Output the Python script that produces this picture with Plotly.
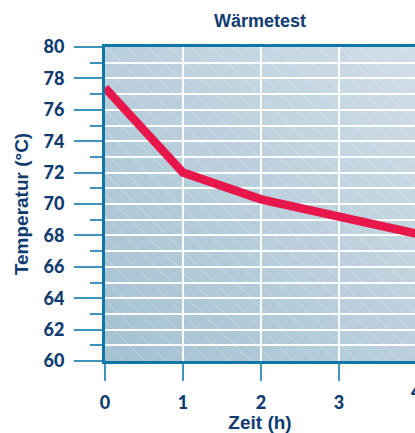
import base64
import plotly.graph_objects as go

# Data
zeit = [0, 1, 2, 3, 4]
temperatur = [77.4, 72.0, 70.3, 69.2, 68.1]
y_ticks = [60, 62, 64, 66, 68, 70, 72, 74, 76, 78, 80]
x_ticks = [0, 1, 2, 3, 4]

NAVY = "#0f3b70"
AXIS = "#0f76a8"
TICK = "#3f93bd"

# background: diagonal gradient + faint diagonal hatching
svg = """<svg xmlns='http://www.w3.org/2000/svg' width='310' height='315' viewBox='0 0 310 315' preserveAspectRatio='none'>
<defs>
<linearGradient id='g' x1='0' y1='1' x2='1' y2='0'>
<stop offset='0' stop-color='#a4c1d2'/>
<stop offset='1' stop-color='#d0dee7'/>
</linearGradient>
<pattern id='p' width='15' height='15' patternUnits='userSpaceOnUse' patternTransform='rotate(-45)'>
<line x1='0' y1='0' x2='0' y2='15' stroke='white' stroke-opacity='0.3' stroke-width='1'/>
</pattern>
</defs>
<rect width='310' height='315' fill='url(#g)'/>
<rect width='310' height='315' fill='url(#p)'/>
</svg>"""
src = "data:image/svg+xml;base64," + base64.b64encode(svg.encode()).decode()

fig = go.Figure()
fig.add_trace(go.Scatter(
    x=zeit, y=temperatur, mode="lines",
    line=dict(color="#e8174b", width=8.5),
    hoverinfo="skip", showlegend=False,
))

fig.add_layout_image(dict(
    source=src, xref="paper", yref="paper", x=0, y=1, sizex=1, sizey=1,
    sizing="stretch", xanchor="left", yanchor="top", layer="below",
))

fig.update_layout(
    width=415, height=433,
    margin=dict(l=105, r=0, t=47, b=72, autoexpand=False),
    paper_bgcolor="white",
    plot_bgcolor="#bcd0dc",
    hovermode=False,
    title=dict(
        text="Wärmetest", x=0.5, xref="paper", xanchor="center",
        y=1 - 21 / 433, yref="container", yanchor="middle",
        font=dict(family="Liberation Sans", size=18, color=NAVY, weight="bold"),
    ),
    xaxis=dict(
        range=[0, 3.974], tickvals=x_ticks, ticktext=[str(v) for v in x_ticks],
        showline=True, linecolor=AXIS, linewidth=3, mirror=True,
        ticks="outside", ticklen=17, tickwidth=2, tickcolor=TICK,
        ticklabelstandoff=6, automargin=False,
        tickfont=dict(family="Lato", size=18, color=NAVY, weight=900),
        showgrid=True, gridcolor="rgba(255,255,255,0.95)", gridwidth=2,
        zeroline=False, fixedrange=True,
        title=dict(text="Zeit (h)", standoff=10,
                   font=dict(family="Liberation Sans", size=19, color=NAVY, weight="bold")),
    ),
    yaxis=dict(
        range=[60, 80], tickvals=y_ticks,
        showline=True, linecolor=AXIS, linewidth=3, mirror=True,
        ticks="outside", ticklen=28, tickwidth=2, tickcolor=TICK,
        ticklabelstandoff=6, automargin=False,
        tickfont=dict(family="Lato", size=18, color=NAVY, weight=900),
        showgrid=True, gridcolor="rgba(255,255,255,0.95)", gridwidth=2,
        minor=dict(dtick=1, tick0=60, ticks="outside", ticklen=12, tickwidth=2,
                   tickcolor=TICK, showgrid=True,
                   gridcolor="rgba(255,255,255,0.95)", gridwidth=2),
        zeroline=False, fixedrange=True,
        title=dict(text="Temperatur (°C)", standoff=10,
                   font=dict(family="Liberation Sans", size=19, color=NAVY, weight="bold")),
    ),
    annotations=[dict(
        text="4", xref="paper", yref="paper", x=(417 - 105) / 310, y=-(391 - 361) / 314,
        xanchor="center", yanchor="middle", showarrow=False,
        font=dict(family="Lato", size=18, color=NAVY, weight=900),
    )],
)

fig.write_html(
    "out.html",
    config={"displayModeBar": False, "staticPlot": True},
    post_script="document.body.style.margin='0';document.body.style.overflow='hidden';",
)
